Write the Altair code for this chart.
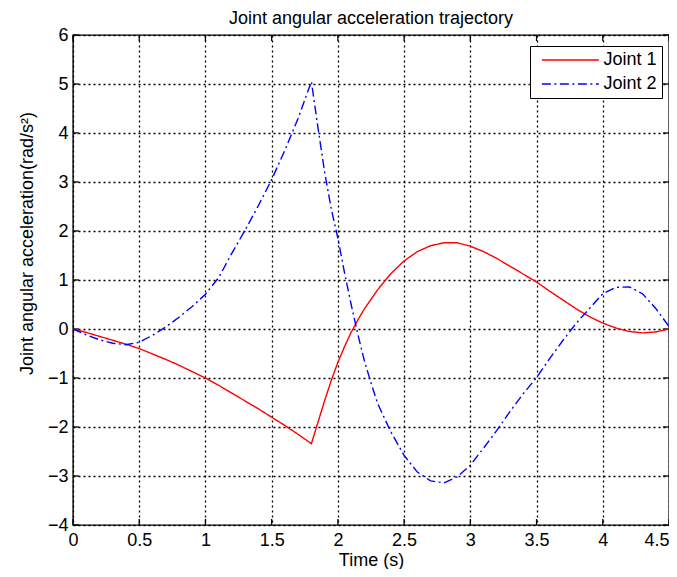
import altair as alt
import pandas as pd

# ---- data ----
t_joint1 = [0.0, 0.1, 0.2, 0.3, 0.4, 0.5, 0.6, 0.7, 0.8, 0.9, 1.0, 1.1, 1.2, 1.3, 1.4,
            1.5, 1.6, 1.7, 1.8, 1.85, 1.9, 1.95, 2.0, 2.05, 2.1, 2.15, 2.2, 2.3, 2.4,
            2.5, 2.6, 2.7, 2.8, 2.9, 3.0, 3.1, 3.2, 3.3, 3.4, 3.5, 3.6, 3.7, 3.8, 3.9,
            4.0, 4.1, 4.2, 4.3, 4.4, 4.5]
a_joint1 = [0.0, -0.07, -0.15, -0.23, -0.31, -0.40, -0.51, -0.62, -0.74, -0.87, -1.0,
            -1.15, -1.31, -1.47, -1.63, -1.80, -1.97, -2.15, -2.34, -1.90, -1.46, -1.05,
            -0.68, -0.36, -0.07, 0.18, 0.41, 0.80, 1.13, 1.39, 1.58, 1.70, 1.76, 1.76,
            1.69, 1.58, 1.44, 1.28, 1.12, 0.96, 0.77, 0.59, 0.41, 0.25, 0.12, 0.02,
            -0.05, -0.08, -0.06, 0.0]

t_joint2 = [0.0, 0.1, 0.2, 0.3, 0.4, 0.5, 0.6, 0.7, 0.8, 0.9, 1.0, 1.1, 1.2, 1.3, 1.4,
            1.5, 1.6, 1.7, 1.8, 1.85, 1.9, 1.95, 2.0, 2.05, 2.1, 2.15, 2.2, 2.25, 2.3,
            2.4, 2.5, 2.6, 2.7, 2.8, 2.9, 3.0, 3.1, 3.2, 3.3, 3.4, 3.5, 3.6, 3.7, 3.8,
            3.9, 4.0, 4.1, 4.2, 4.3, 4.4, 4.5]
a_joint2 = [0.0, -0.12, -0.22, -0.29, -0.32, -0.27, -0.13, 0.04, 0.24, 0.46, 0.71,
            1.05, 1.55, 2.02, 2.52, 3.05, 3.65, 4.30, 5.05, 4.10, 3.20, 2.45, 1.85,
            1.15, 0.50, -0.10, -0.65, -1.10, -1.52, -2.10, -2.58, -2.92, -3.10, -3.14,
            -3.02, -2.78, -2.43, -2.07, -1.68, -1.32, -0.99, -0.60, -0.23, 0.12, 0.42,
            0.72, 0.85, 0.86, 0.72, 0.42, 0.05]

series_names = ["Joint 1", "Joint 2"]
series_colors = ["#ff0000", "#0000ff"]
series_dashes = [[1, 0], [9, 3.5, 2, 3.5]]

x_ticks = [0, 0.5, 1, 1.5, 2, 2.5, 3, 3.5, 4, 4.5]
y_ticks = [-4, -3, -2, -1, 0, 1, 2, 3, 4, 5, 6]

title_text = "Joint angular acceleration trajectory"
x_title = "Time (s)"
y_title = "Joint angular acceleration(rad/s²)"

# ---- tables ----
lines_df = pd.concat([
    pd.DataFrame({"t": t_joint1, "a": a_joint1, "series": series_names[0]}),
    pd.DataFrame({"t": t_joint2, "a": a_joint2, "series": series_names[1]}),
], ignore_index=True)

tick_rows = []
for v in x_ticks:
    tick_rows.append({"t": v, "a": y_ticks[0], "dir": "up"})
    tick_rows.append({"t": v, "a": y_ticks[-1], "dir": "down"})
for v in y_ticks:
    tick_rows.append({"t": x_ticks[0], "a": v, "dir": "right"})
    tick_rows.append({"t": x_ticks[-1], "a": v, "dir": "left"})
ticks_df = pd.DataFrame(tick_rows)

FONT = "Liberation Sans"

x_label_align = {"condition": {"test": f"datum.value >= {x_ticks[-1]}", "value": "right"},
                 "value": "center"}

x_enc = alt.X("t:Q",
              scale=alt.Scale(domain=[x_ticks[0], x_ticks[-1]], nice=False, zero=False),
              axis=alt.Axis(values=x_ticks, format="~g", title=x_title,
                            labelPadding=6, labelAlign=x_label_align,
                            titleY=35, titleBaseline="middle"))
y_enc = alt.Y("a:Q",
              scale=alt.Scale(domain=[y_ticks[0], y_ticks[-1]], nice=False, zero=False),
              axis=alt.Axis(values=y_ticks, format="d", title=y_title,
                            labelPadding=5, titleX=-46, titleY=208,
                            titleBaseline="middle", titleAlign="center", titleAngle=270))

legend_opts = dict(title=None, orient="none", legendX=457, legendY=11,
                   symbolType="M-1,0H7", symbolSize=203, symbolStrokeWidth=1.4,
                   symbolOffset=5, labelOffset=45.5, rowPadding=6, padding=5,
                   strokeColor="black", fillColor="white", labelFontSize=18,
                   labelFont=FONT, labelColor="black", cornerRadius=0)

lines = alt.Chart(lines_df).mark_line(strokeWidth=1.4).encode(
    x=x_enc,
    y=y_enc,
    color=alt.Color("series:N",
                    scale=alt.Scale(domain=series_names, range=series_colors),
                    legend=alt.Legend(**legend_opts)),
    strokeDash=alt.StrokeDash("series:N",
                              scale=alt.Scale(domain=series_names, range=series_dashes),
                              legend=alt.Legend(**legend_opts)),
)

ticks = alt.Chart(ticks_df).mark_point(filled=False, opacity=1, strokeWidth=1.3,
                                       color="black", size=144).encode(
    x=alt.X("t:Q"),
    y=alt.Y("a:Q"),
    shape=alt.Shape("dir:N",
                    scale=alt.Scale(domain=["up", "down", "right", "left"],
                                    range=["M0,0V-1", "M0,0V1", "M0,0H1", "M0,0H-1"]),
                    legend=None),
)

chart = alt.layer(ticks, lines).properties(
    width=596,
    height=490,
    autosize=alt.AutoSizeParams(type="none"),
    padding={"left": 65, "top": 27, "right": 0, "bottom": 44},
    title=alt.TitleParams(title_text, fontSize=18, fontWeight="normal", font=FONT,
                          color="black", offset=-2, anchor="middle"),
).configure_view(
    stroke="black", strokeWidth=1.4
).configure_axis(
    grid=True, gridColor="black", gridDash=[2, 3], gridWidth=1.3, gridOpacity=1,
    domain=False, ticks=False,
    labelFont=FONT, labelFontSize=18, labelColor="black",
    titleFont=FONT, titleFontSize=18, titleFontWeight="normal", titleColor="black",
)

chart.save("out.html", embed_options={"renderer": "svg", "actions": False})
